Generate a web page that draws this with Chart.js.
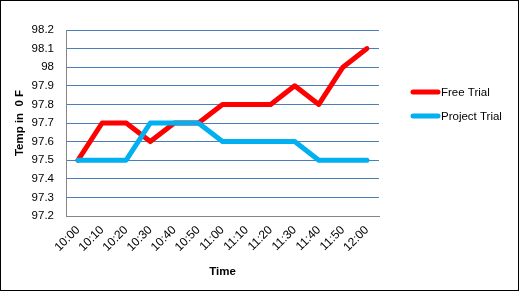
<!DOCTYPE html>
<html>
<head>
<meta charset="utf-8">
<script src="https://cdn.jsdelivr.net/npm/chart.js@4"></script>
<style>
    html, body { margin: 0; padding: 0; background: #fff; }
    #frame { width: 519px; height: 291px; box-sizing: border-box; border: 1px solid #000; }
    #chart { display: block; }
</style>
</head>
<body>
<div id="frame"><canvas id="chart" width="517" height="289"></canvas></div>
<script>
// ─── data ───
const TIMES = ["10:00", "10:10", "10:20", "10:30", "10:40", "10:50", "11:00",
               "11:10", "11:20", "11:30", "11:40", "11:50", "12:00"];
const FREE_TRIAL    = [97.5, 97.7, 97.7, 97.6, 97.7, 97.7, 97.8, 97.8, 97.8, 97.9, 97.8, 98.0, 98.1];
const PROJECT_TRIAL = [97.5, 97.5, 97.5, 97.7, 97.7, 97.7, 97.6, 97.6, 97.6, 97.6, 97.5, 97.5, 97.5];
const Y_TICKS       = [97.2, 97.3, 97.4, 97.5, 97.6, 97.7, 97.8, 97.9, 98.0, 98.1, 98.2];
const Y_TICK_LABELS = ["97.2", "97.3", "97.4", "97.5", "97.6", "97.7", "97.8", "97.9", "98", "98.1", "98.2"];

const FONT = "'Liberation Sans', Arial, sans-serif";
Chart.defaults.font.family = FONT;
Chart.defaults.font.size = 11.5;
Chart.defaults.color = "#000";

// legend drawn to the right, Excel style (thick line + label)
const sideLegend = {
    id: "sideLegend",
    afterDraw(chart) {
        const ctx = chart.ctx;
        const items = [chart.data.datasets[0], chart.data.datasets[1]];
        ctx.save();
        ctx.font = "11.5px " + FONT;
        ctx.textBaseline = "middle";
        ctx.fillStyle = "#000";
        items.forEach((ds, i) => {
            const y = 91 + i * 24;
            ctx.strokeStyle = ds.borderColor;
            ctx.lineWidth = 5;
            ctx.lineCap = "round";
            ctx.beginPath();
            ctx.moveTo(412, y);
            ctx.lineTo(437, y);
            ctx.stroke();
            ctx.fillText(ds.label, 440, y + 1);
        });
        ctx.restore();
    }
};

new Chart(document.getElementById("chart"), {
    type: "line",
    data: {
        labels: TIMES,
        datasets: [
            {
                label: "Free Trial",
                data: FREE_TRIAL,
                borderColor: "#ff0000",
                backgroundColor: "#ff0000",
                borderWidth: 5,
                order: 1,
            },
            {
                label: "Project Trial",
                data: PROJECT_TRIAL,
                borderColor: "#00b0f0",
                backgroundColor: "#00b0f0",
                borderWidth: 5,
                order: 0,
            }
        ]
    },
    options: {
        responsive: false,
        animation: false,
        layout: { padding: { top: 29, right: 139, bottom: 0, left: 0 } },
        elements: {
            point: { radius: 0, hoverRadius: 0 },
            line: { tension: 0, borderJoinStyle: "round", borderCapStyle: "round" }
        },
        plugins: {
            legend: { display: false },
            tooltip: { enabled: false }
        },
        scales: {
            x: {
                offset: true,
                grid: { display: false, drawTicks: false },
                border: { color: "#868686", width: 1 },
                ticks: { autoSkip: false, minRotation: 45, maxRotation: 45, padding: 7, font: { size: 12 } },
                title: {
                    display: true,
                    text: "Time",
                    font: { weight: "bold", size: 11.5 },
                    padding: { top: 0, bottom: 11 }
                },
                afterFit: scale => { scale.height = 74; }
            },
            y: {
                min: 97.2,
                max: 98.2,
                afterBuildTicks: scale => { scale.ticks = Y_TICKS.map(v => ({ value: v })); },
                grid: {
                    drawTicks: false,
                    color: ctx => ctx.index === 0 ? "#868686" : "#4a7ebb",
                    lineWidth: 1
                },
                border: { color: "#868686", width: 1 },
                ticks: {
                    padding: 12,
                    callback: (val, i) => Y_TICK_LABELS[i]
                },
                title: {
                    display: true,
                    text: "Temp in  0 F",
                    font: { weight: "bold", size: 11.5 },
                    padding: { top: 12, bottom: 0 }
                },
                afterFit: scale => { scale.width = 65; }
            }
        }
    },
    plugins: [sideLegend]
});
</script>
</body>
</html>
